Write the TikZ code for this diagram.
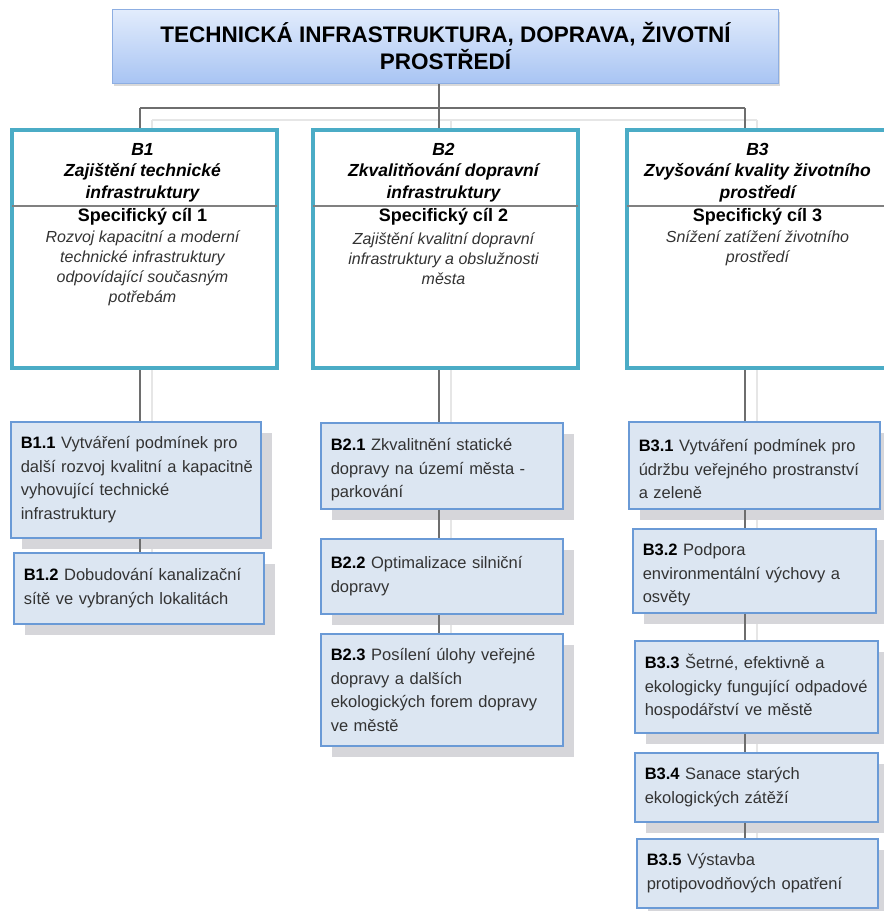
\documentclass[tikz,border=0pt]{standalone}
\usepackage{fontspec}
\setmainfont{Liberation Sans}
\usetikzlibrary{shadows,backgrounds}
\definecolor{bordteal}{HTML}{4BACC6}
\definecolor{boxblue}{HTML}{6A9AD6}
\definecolor{boxfill}{HTML}{DCE6F2}
\definecolor{shadowgray}{HTML}{D6D6DA}
\definecolor{shline}{HTML}{E6E6E6}
\definecolor{connc}{HTML}{6E6E6E}
\definecolor{txtgray}{HTML}{333333}
\definecolor{titletop}{HTML}{E2ECFC}
\definecolor{titlebot}{HTML}{A8C4F3}
\definecolor{titlebord}{HTML}{8DAEE2}
\newcommand\bnum[1]{\textbf{\color{black}#1}}
\newcommand\sbstart[1]{\rule{0pt}{#1pt}}
\tikzset{
  titlebox/.style={draw=titlebord, line width=1pt, top color=titletop, bottom color=titlebot,
    anchor=north west, align=center, inner sep=0pt,
    font=\fontsize{22.5}{27}\selectfont\bfseries,
    general shadow={fill=black!15, shadow xshift=1pt, shadow yshift=-2.5pt}},
  bigbox/.style={draw=bordteal, line width=4pt, fill=white, rectangle, inner sep=0pt, anchor=north west,
    minimum width=265pt, minimum height=238pt},
  hdr/.style={align=center, inner sep=0pt, font=\fontsize{17.5}{21.5}\selectfont\bfseries\itshape},
  spec/.style={align=center, inner sep=0pt, font=\fontsize{18}{21}\selectfont\bfseries},
  desc/.style={align=center, inner sep=0pt, text=txtgray, font=\fontsize{16}{20}\selectfont\itshape},
  sepline/.style={draw=black!50, line width=2pt},
  smallbox/.style={draw=boxblue, line width=1.6pt, fill=boxfill, rectangle, anchor=north west,
    inner xsep=10pt, inner ysep=0pt, align=left, text=txtgray,
    font=\fontsize{16.5}{23.5}\selectfont,
    general shadow={fill=shadowgray, shadow xshift=11.5pt, shadow yshift=-11.5pt}},
  conn/.style={draw=connc, line width=1.4pt},
  shconn/.style={draw=shline, line width=2pt}
}
\begin{document}
\begin{tikzpicture}[x=1pt,y=-1pt]
\path[use as bounding box, clip] (0,0) rectangle (884,911);

% title
\node[titlebox, minimum width=666pt, minimum height=74pt] (title) at (112,9)
  {TECHNICKÁ INFRASTRUKTURA, DOPRAVA, ŽIVOTNÍ\\PROSTŘEDÍ};

% junction coordinates
\coordinate (c1) at (140,108);
\coordinate (c2) at (439,108);
\coordinate (c3) at (745,108);

% big boxes
\node[bigbox] (b1) at (10,128) {};
\node[bigbox] (b2) at (311,128) {};
\node[bigbox] (b3) at (625,128) {};

\draw[sepline] ([xshift=2pt]b1.west |- 0,206) -- ([xshift=-2pt]b1.east |- 0,206);
\draw[sepline] ([xshift=2pt]b2.west |- 0,206) -- ([xshift=-2pt]b2.east |- 0,206);
\draw[sepline] ([xshift=2pt]b3.west |- 0,206) -- ([xshift=-2pt]b3.east |- 0,206);

\node[hdr] (b1h) at (142.5,172.5) {B1\\Zajištění technické\\infrastruktury};
\node[hdr] (b2h) at (443.5,172.5) {B2\\Zkvalitňování dopravní\\infrastruktury};
\node[hdr] (b3h) at (757.5,172.5) {B3\\Zvyšování kvality životního\\prostředí};

\node[spec] (b1s) at (142.5,217) {Specifický cíl 1};
\node[spec] (b2s) at (443.5,217) {Specifický cíl 2};
\node[spec] (b3s) at (757.5,217) {Specifický cíl 3};

\node[desc] (b1d) at (142.5,268.5) {Rozvoj kapacitní a moderní\\technické infrastruktury\\odpovídající současným\\potřebám};
\node[desc] (b2d) at (443.5,258.5) {Zajištění kvalitní dopravní\\infrastruktury a obslužnosti\\města};
\node[desc] (b3d) at (757.5,248.5) {Snížení zatížení životního\\prostředí};

% small boxes column 1
\node[smallbox, minimum width=250pt, text width=230pt, minimum height=116pt] (b11) at (10,421)
  {\bnum{B1.1} Vytváření podmínek pro\\\mbox{další rozvoj kvalitní a kapacitně}\\vyhovující technické\\infrastruktury};
\node[smallbox, minimum width=250pt, text width=230pt, minimum height=71pt] (b12) at (13,552)
  {\bnum{B1.2} Dobudování kanalizační\\sítě ve vybraných lokalitách};

% column 2
\node[smallbox, minimum width=242pt, text width=222pt, minimum height=86pt] (b21) at (320,422)
  {\sbstart{20}\bnum{B2.1} Zkvalitnění statické\\dopravy na území města -\\parkování};
\node[smallbox, minimum width=242pt, text width=222pt, minimum height=75pt] (b22) at (320,538)
  {\bnum{B2.2} Optimalizace silniční\\dopravy};
\node[smallbox, minimum width=242pt, text width=222pt, minimum height=112pt] (b23) at (320,633)
  {\bnum{B2.3} Posílení úlohy veřejné\\dopravy a dalších\\ekologických forem dopravy\\ve městě};

% column 3
\node[smallbox, minimum width=251pt, text width=231pt, minimum height=87pt] (b31) at (628,421)
  {\sbstart{20.5}\bnum{B3.1} Vytváření podmínek pro\\údržbu veřejného prostranství\\a zeleně};
\node[smallbox, minimum width=243pt, text width=223pt, minimum height=84pt] (b32) at (632,528)
  {\sbstart{20.5}\bnum{B3.2} Podpora\\environmentální výchovy a\\osvěty};
\node[smallbox, minimum width=243pt, text width=223pt, minimum height=92pt] (b33) at (634,640)
  {\bnum{B3.3} Šetrné, efektivně a\\\mbox{ekologicky fungující odpadové}\\hospodářství ve městě};
\node[smallbox, minimum width=243pt, text width=223pt, minimum height=69pt] (b34) at (634,752)
  {\bnum{B3.4} Sanace starých\\ekologických zátěží};
\node[smallbox, minimum width=241pt, text width=221pt, minimum height=69pt] (b35) at (636,838)
  {\bnum{B3.5} Výstavba\\protipovodňových opatření};

% connectors
\draw[conn] (title.south -| c2) -- (c2);
\draw[conn] (c1) -- (c3);
\draw[conn] (c1) -- (c1 |- b1.north);
\draw[conn] (c2) -- (c2 |- b2.north);
\draw[conn] (c3) -- (c3 |- b3.north);
\draw[conn] (b1.south -| c1) -- (b11.north -| c1);
\draw[conn] (b11.south -| c1) -- (b12.north -| c1);
\draw[conn] (b2.south -| c2) -- (b21.north -| c2);
\draw[conn] (b21.south -| c2) -- (b22.north -| c2);
\draw[conn] (b22.south -| c2) -- (b23.north -| c2);
\draw[conn] (b3.south -| c3) -- (b31.north -| c3);
\draw[conn] (b31.south -| c3) -- (b32.north -| c3);
\draw[conn] (b32.south -| c3) -- (b33.north -| c3);
\draw[conn] (b33.south -| c3) -- (b34.north -| c3);
\draw[conn] (b34.south -| c3) -- (b35.north -| c3);

% connector shadows
\begin{scope}[on background layer]
\draw[shconn] ([shift={(12,12)}]c1) -- ([shift={(12,12)}]c3);
\draw[shconn] ([shift={(12,12)}]c1) -- ([xshift=12pt]b12.north -| c1);
\draw[shconn] ([shift={(12,12)}]c2) -- ([xshift=12pt]b23.north -| c2);
\draw[shconn] ([shift={(12,12)}]c3) -- ([xshift=12pt]b35.north -| c3);
\end{scope}
\end{tikzpicture}
\end{document}
